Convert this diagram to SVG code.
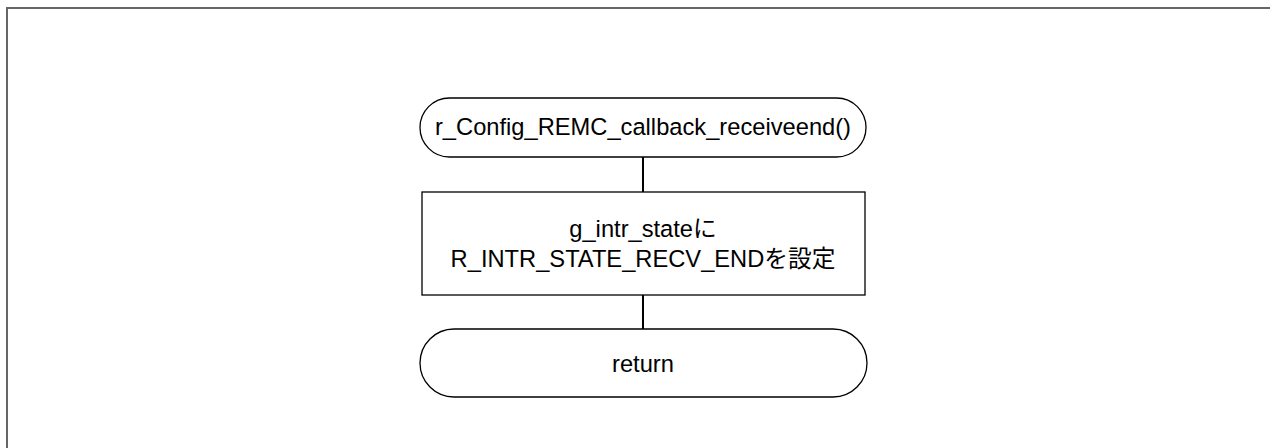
<svg xmlns="http://www.w3.org/2000/svg" width="1270" height="448" viewBox="0 0 1270 448">
<style>
.shape{fill:#fff;stroke:#000;stroke-width:1.3}
.conn{stroke:#000;stroke-width:2;fill:none}
text{font-family:"Liberation Sans","Noto Sans CJK JP",Arial,sans-serif;font-size:23.7px;fill:#000;text-anchor:middle}
</style>
<rect x="7" y="8" width="1300" height="500" fill="#fff" stroke="#666" stroke-width="2"/>
<g id="connectors">
<line class="conn" x1="643" y1="157" x2="643" y2="192"/>
<line class="conn" x1="643" y1="295" x2="643" y2="329"/>
</g>
<g id="start">
<rect class="shape" x="420" y="98" width="446" height="59" rx="29.5" ry="29.5"/>
<text x="643" y="135">r_Config_REMC_callback_receiveend()</text>
</g>
<g id="process">
<rect class="shape" x="422" y="192" width="443" height="103"/>
<text x="643" y="237">g_intr_stateに</text>
<text x="643" y="267">R_INTR_STATE_RECV_ENDを設定</text>
</g>
<g id="end">
<rect class="shape" x="420" y="329" width="447" height="68" rx="34" ry="34"/>
<text x="643" y="372">return</text>
</g>
</svg>
